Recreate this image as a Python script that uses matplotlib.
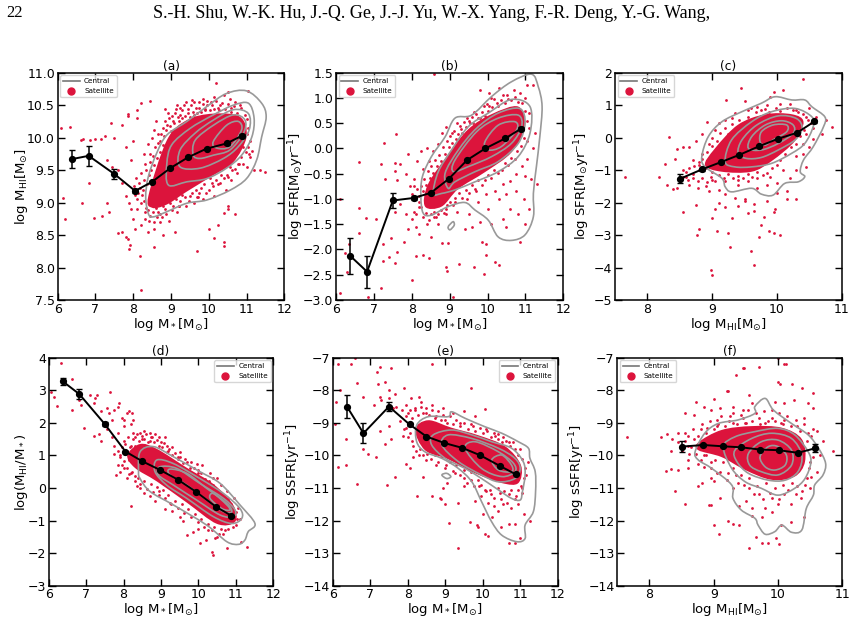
import numpy as np
import matplotlib
matplotlib.use("Agg")
import matplotlib.pyplot as plt
from matplotlib.path import Path
from matplotlib.patches import PathPatch
from matplotlib.lines import Line2D

plt.rcParams["font.family"] = "DejaVu Sans"
plt.rcParams["mathtext.fontset"] = "dejavusans"

RED = "#DC143C"
GREY = "#999999"

# Running medians with their uncertainties
mstar_bins = [6.38, 6.82, 7.50, 8.05, 8.50, 8.98, 9.46, 9.94, 10.47, 10.88]
mhi_bins = [8.50, 8.84, 9.14, 9.42, 9.72, 10.01, 10.31, 10.58]

a_med = [9.67, 9.72, 9.44, 9.18, 9.32, 9.53, 9.70, 9.83, 9.91, 10.03]
a_err = [0.14, 0.15, 0.07, 0.03, 0.02, 0.01, 0.01, 0.01, 0.02, 0.03]
b_med = [-2.13, -2.44, -1.03, -0.98, -0.88, -0.60, -0.23, 0.00, 0.20, 0.39]
b_err = [0.35, 0.32, 0.14, 0.04, 0.02, 0.01, 0.01, 0.01, 0.02, 0.03]
c_med = [-1.27, -0.98, -0.75, -0.53, -0.27, -0.04, 0.15, 0.50]
c_err = [0.14, 0.04, 0.02, 0.01, 0.01, 0.01, 0.02, 0.05]
d_med = [3.27, 2.88, 1.96, 1.12, 0.82, 0.55, 0.25, -0.12, -0.58, -0.85]
d_err = [0.10, 0.16, 0.06, 0.03, 0.02, 0.01, 0.01, 0.01, 0.02, 0.03]
e_med = [-8.50, -9.32, -8.50, -9.05, -9.42, -9.62, -9.77, -10.00, -10.33, -10.58]
e_err = [0.34, 0.30, 0.14, 0.04, 0.02, 0.01, 0.01, 0.01, 0.02, 0.03]
f_med = [-9.73, -9.68, -9.72, -9.75, -9.82, -9.84, -9.92, -9.78]
f_err = [0.17, 0.04, 0.02, 0.01, 0.01, 0.02, 0.03, 0.12]

# Central-galaxy density contours, outermost first
a_contours = [
    [(8.40,8.83),(8.33,9.09),(8.40,9.40),(8.62,9.76),(8.89,10.04),(9.42,10.25),(9.95,10.48),(10.47,10.68),(11.0,10.72),(11.40,10.53),(11.52,10.32),(11.40,10.01),(11.27,9.66),(11.0,9.37),(10.56,9.19),(9.95,9.04),(9.42,8.99),(8.89,8.86),(8.53,8.78)],
    [(8.93,9.27),(8.89,9.60),(9.02,9.89),(9.50,10.14),(10.12,10.35),(10.65,10.50),(11.05,10.53),(11.2,10.30),(11.14,10.01),(10.87,9.73),(10.47,9.53),(9.95,9.37),(9.42,9.32)],
    [(9.24,9.55),(9.24,9.81),(9.64,10.07),(10.12,10.27),(10.65,10.43),(11.05,10.37),(11.07,10.12),(10.78,9.86),(10.39,9.68),(9.77,9.53)],
    [(9.59,9.73),(9.64,9.96),(10.12,10.19),(10.65,10.35),(10.96,10.27),(10.92,10.07),(10.56,9.81),(10.12,9.73),(9.77,9.68)],
    [(10.12,9.94),(10.47,10.19),(10.78,10.25),(10.87,10.12),(10.56,9.86),(10.21,9.84)],
]
b_contours = [
    [(8.30,-1.28),(8.24,-0.95),(8.28,-0.56),(8.52,-0.16),(8.88,0.23),(9.14,0.60),(9.58,0.66),(10.11,1.03),(10.63,1.32),(11.16,1.47),(11.34,1.22),(11.44,0.83),(11.38,0.23),(11.29,-0.36),(11.21,-0.89),(11.21,-1.35),(10.99,-1.71),(10.63,-1.82),(10.28,-1.75),(10.02,-1.42),(9.67,-1.22),(9.40,-1.07),(8.96,-1.15),(8.52,-1.32)],
    [(8.96,-1.55),(9.09,-1.45),(9.12,-1.52),(9.01,-1.61)],
    [(8.57,-0.89),(8.70,-0.46),(9.05,-0.03),(9.49,0.43),(10.02,0.70),(10.63,0.97),(11.12,0.83),(11.12,0.30),(10.81,-0.16),(10.28,-0.46),(9.67,-0.66),(9.14,-0.82),(8.79,-0.89)],
    [(8.96,-0.79),(8.88,-0.49),(9.23,-0.03),(9.71,0.40),(10.28,0.70),(10.85,0.79),(10.99,0.50),(10.81,0.10),(10.28,-0.26),(9.67,-0.46),(9.14,-0.66)],
    [(9.10,-0.46),(9.14,-0.23),(9.71,0.33),(10.28,0.60),(10.81,0.66),(10.9,0.43),(10.63,0.10),(10.11,-0.16),(9.49,-0.36)],
    [(9.93,0.13),(10.28,0.46),(10.72,0.53),(10.77,0.37),(10.37,0.04),(10.02,-0.03)],
]
c_contours = [
    [(8.84,-0.59),(8.94,0.03),(9.15,0.49),(9.46,0.80),(9.76,1.06),(9.97,1.26),(10.23,1.16),(10.43,1.16),(10.54,0.95),(10.74,0.64),(10.72,0.34),(10.56,-0.28),(10.41,-0.69),(10.36,-1.05),(10.43,-1.20),(10.33,-1.36),(10.12,-1.41),(9.94,-1.77),(9.76,-1.74),(9.61,-1.56),(9.30,-1.67),(9.20,-1.51),(9.15,-1.25),(8.89,-0.90)],
    [(9.20,-0.74),(9.30,-0.07),(9.61,0.49),(9.92,0.80),(10.28,0.90),(10.54,0.64),(10.56,0.34),(10.43,-0.18),(10.23,-0.48),(9.92,-0.79),(9.61,-0.90),(9.35,-0.90)],
    [(9.40,-0.48),(9.46,-0.07),(9.69,0.39),(10.02,0.67),(10.30,0.59),(10.39,0.29),(10.28,-0.07),(10.02,-0.38),(9.76,-0.61),(9.53,-0.64)],
    [(9.56,-0.33),(9.61,0.03),(9.82,0.39),(10.07,0.52),(10.25,0.39),(10.25,0.13),(10.02,-0.18),(9.76,-0.38)],
    [(9.74,-0.13),(9.76,0.18),(9.94,0.39),(10.15,0.39),(10.15,0.18),(9.94,-0.07),(9.82,-0.23)],
]
d_contours = [
    [(8.40,0.50),(8.44,1.11),(8.80,1.27),(9.33,0.96),(10.04,0.50),(10.58,0.14),(11.11,-0.52),(11.51,-1.09),(11.33,-1.34),(11.24,-1.60),(11.07,-1.73),(10.76,-1.65),(10.22,-1.14),(9.33,-0.52),(8.71,-0.11),(8.44,0.29)],
    [(8.84,0.50),(8.89,0.86),(9.33,0.75),(10.04,0.29),(10.67,-0.17),(11.11,-0.63),(11.16,-0.93),(10.89,-1.09),(10.40,-0.88),(9.69,-0.32),(9.15,0.09)],
    [(8.93,0.40),(8.97,0.65),(9.42,0.60),(10.04,0.14),(10.67,-0.32),(10.98,-0.68),(10.93,-0.88),(10.58,-0.83),(9.95,-0.37),(9.33,0.09)],
    [(9.24,0.40),(9.24,0.58),(9.69,0.45),(10.22,-0.01),(10.76,-0.47),(10.89,-0.73),(10.67,-0.73),(10.22,-0.37),(9.69,0.09)],
    [(10.31,-0.32),(10.40,-0.17),(10.76,-0.52),(10.84,-0.68),(10.62,-0.63)],
]
e_contours = [
    [(8.24,-9.58),(8.24,-9.07),(8.55,-8.81),(9.08,-8.81),(9.17,-8.66),(9.53,-8.86),(10.06,-9.12),(10.51,-9.32),(10.95,-9.58),(11.22,-9.78),(11.26,-10.09),(11.40,-10.50),(11.41,-11.11),(11.35,-11.73),(11.13,-12.14),(11.13,-12.55),(10.91,-12.65),(10.51,-12.45),(10.24,-12.04),(9.97,-11.42),(9.71,-10.81),(9.35,-10.40),(8.91,-10.09),(8.46,-9.89)],
    [(8.64,-9.68),(8.68,-9.37),(9.17,-9.22),(9.71,-9.37),(10.24,-9.58),(10.77,-9.78),(11.08,-10.19),(11.13,-10.60),(11.06,-11.11),(11.0,-11.37),(10.77,-11.32),(10.42,-11.06),(9.97,-10.71),(9.53,-10.40),(9.0,-10.09)],
    [(8.91,-9.68),(9.08,-9.37),(9.71,-9.48),(10.42,-9.78),(10.86,-10.09),(11.0,-10.40),(10.86,-10.71),(10.42,-10.81),(9.97,-10.60),(9.35,-10.19)],
    [(9.53,-9.78),(9.80,-9.58),(10.42,-9.89),(10.82,-10.24),(10.86,-10.50),(10.51,-10.65),(9.97,-10.40)],
    [(10.24,-10.14),(10.51,-9.99),(10.77,-10.30),(10.77,-10.50),(10.42,-10.45)],
    [(8.91,-10.60),(9.04,-10.55),(9.15,-10.65),(9.04,-10.71)],
]
f_contours = [
    [(8.71,-9.89),(8.86,-9.32),(9.07,-9.02),(9.38,-8.91),(9.64,-8.71),(9.64,-8.50),(9.80,-8.25),(9.93,-8.61),(10.21,-9.02),(10.47,-9.37),(10.63,-9.78),(10.74,-10.24),(10.70,-10.60),(10.57,-10.91),(10.55,-11.22),(10.44,-11.63),(10.37,-12.29),(10.21,-12.36),(10.06,-12.14),(9.95,-12.34),(9.80,-12.42),(9.69,-12.14),(9.64,-11.93),(9.43,-11.68),(9.30,-11.32),(9.28,-10.91),(8.97,-10.40),(8.76,-10.14)],
    [(9.15,-9.73),(9.33,-9.43),(9.64,-9.27),(10.0,-9.17),(10.26,-9.37),(10.47,-9.89),(10.51,-10.24),(10.42,-10.71),(10.26,-11.01),(10.0,-11.22),(9.74,-11.01),(9.49,-10.81),(9.28,-10.40)],
    [(9.33,-9.84),(9.59,-9.48),(9.90,-9.32),(10.21,-9.48),(10.37,-9.99),(10.31,-10.50),(10.11,-10.76),(9.85,-10.76),(9.54,-10.55),(9.36,-10.19)],
    [(9.54,-9.94),(9.74,-9.58),(10.0,-9.53),(10.21,-9.84),(10.21,-10.30),(10.0,-10.60),(9.74,-10.50),(9.56,-10.30)],
    [(9.72,-10.04),(9.85,-9.73),(10.0,-9.73),(10.13,-9.99),(10.11,-10.30),(9.95,-10.45),(9.80,-10.35)],
]

# Outline of the region where satellites overlap completely
a_core = [(8.4,9.1),(8.89,9.96),(9.42,10.27),(10.12,10.37),(10.83,10.32),(11.0,10.01),(10.65,9.62),(10.12,9.42),(9.42,9.17),(8.89,8.97),(8.5,8.92)]
b_core = [(8.35,-1.15),(8.42,-0.72),(8.96,-0.12),(9.49,0.38),(10.11,0.68),(10.81,0.83),(10.99,0.43),(10.63,-0.08),(9.93,-0.47),(9.23,-0.8),(8.79,-1.15)]
c_core = [(8.89,-0.85),(9.04,-0.34),(9.40,0.4),(9.82,0.72),(10.23,0.72),(10.41,0.49),(10.28,-0.1),(9.92,-0.72),(9.61,-1.05),(9.15,-1.05)]
d_core = [(8.44,1.35),(8.89,1.2),(9.69,0.62),(10.40,0.12),(10.93,-0.52),(10.98,-1.04),(10.49,-1.1),(9.69,-0.45),(8.89,0.2),(8.3,0.62),(8.1,1.01)]
e_core = [(8.2,-9.2),(8.55,-8.92),(9.17,-9.15),(9.88,-9.38),(10.6,-9.72),(11.02,-10.3),(10.95,-10.85),(10.51,-10.85),(9.8,-10.55),(9.08,-10.12),(8.46,-9.84)]
f_core = [(8.76,-9.6),(9.12,-9.22),(9.59,-9.1),(10.06,-9.15),(10.37,-9.5),(10.42,-10.19),(10.26,-10.65),(9.9,-10.75),(9.49,-10.45),(9.12,-10.05),(8.76,-9.84)]

# Individual satellites away from the crowded region
a_sat = [(6.1,10.15),(6.32,10.16),(6.15,9.07),(6.2,8.75),(6.65,9.0),(6.62,9.97),(6.66,9.98),(6.85,9.97),(7.0,9.98),(6.82,9.3),(6.95,8.76),(7.18,8.8),(7.35,8.85),(7.3,9.0),(7.3,9.66),(7.25,10.02),(7.15,9.98),(7.4,10.23),(7.45,9.55),(7.5,10.0),(7.6,8.53),(7.7,8.55),(7.8,8.47),(7.85,8.44),(7.88,8.28),(7.92,8.35),(8.18,8.18),(8.2,7.65),(7.7,10.2),(7.8,9.85),(7.85,10.37),(7.86,10.33),(8.1,10.42),(8.2,10.53),(8.45,10.57),(8.1,10.3),(8.0,9.95),(7.95,9.65),(7.6,9.5),(7.7,9.3),(7.8,9.1),(7.9,9.0),(7.95,8.9),(8.0,8.75),(8.05,8.6),(8.1,8.9),(8.2,8.65),(8.3,8.75),(8.4,8.55),(8.55,8.6),(8.55,8.32),(8.7,8.7),(8.8,8.5),(9.1,8.55),(9.7,8.26),(10.0,8.6),(10.15,8.45),(10.4,8.4),(10.4,8.33),(10.25,8.66),(10.4,8.84),(10.5,8.95),(10.5,8.9),(10.7,8.82),(10.2,10.84),(10.5,10.7),(11.05,10.72),(11.1,9.7),(11.2,9.5),(11.5,9.47),(11.35,9.5),
    (8.3,9.6),(8.45,9.75),(8.5,10.0),(8.6,10.25),(8.7,9.95),(8.8,10.15),(8.85,10.44),(8.95,10.3),(9.0,10.1),(9.1,10.38),(9.15,10.5),(9.2,10.25),(9.3,10.42),(9.4,10.55),(9.45,10.38),(9.55,10.58),(9.65,10.45),(9.75,10.55),(9.85,10.6),(9.95,10.5),(10.05,10.55),(10.15,10.62),(10.3,10.5),(10.4,10.65),(10.55,10.6),(10.7,10.55),(10.85,10.45),(10.95,10.35),(11.05,10.15),(11.1,9.95),(11.15,9.8),
    (8.25,9.2),(8.2,9.0),(8.3,8.85),(8.45,8.8),(8.55,8.7),(8.65,8.85),(8.75,8.78),(8.85,8.9),(8.95,8.72),(9.05,8.95),(9.15,8.85),(9.25,9.02),(9.4,8.95),(9.5,9.1),(9.6,9.0),(9.75,9.15),(9.85,9.05),(10.0,9.2),(10.15,9.1),(10.3,9.3),(10.45,9.2),(10.6,9.35),(10.75,9.45),(10.9,9.6),(11.0,9.55),
    (8.15,9.3),(8.2,9.45),(8.28,9.75),(8.38,9.9),(8.55,10.12),(8.65,10.05),(8.9,10.2),(9.05,10.25),(9.25,10.35),(9.6,10.35),(9.9,10.42),(10.25,10.45),(10.6,10.45),(8.1,9.05),(8.35,8.92),(8.6,8.92),(9.2,8.95),(9.7,9.08),(10.1,9.25),(10.5,9.4),(10.8,9.6),(11.05,9.85)]
a_halo = [(8.28,9.35),(8.33,9.5),(8.36,9.28),(8.42,9.42),(8.44,9.62),(8.48,9.5),(8.52,9.72),(8.55,9.58),(8.58,9.85),(8.62,9.68),(8.66,9.92),(8.7,9.78),(8.74,10.05),(8.78,9.88),(8.82,10.02),(8.85,10.25),(8.88,10.12),(8.92,10.38),(8.98,10.18),(9.02,10.33),(9.08,10.22),(9.12,10.44),(9.18,10.32),(9.24,10.46),(9.28,10.3),(9.34,10.5),(9.38,10.34),(9.44,10.44),(9.5,10.32),(9.52,10.5),(9.58,10.4),(9.62,10.55),(9.68,10.38),(9.74,10.46),(9.8,10.4),(9.84,10.52),(9.9,10.44),(9.96,10.56),(10.02,10.42),(10.08,10.5),(10.14,10.44),(10.2,10.56),(10.26,10.42),(10.34,10.54),(10.42,10.44),(10.5,10.52),(10.58,10.4),(10.66,10.48),(10.76,10.38),(10.82,10.5),(10.92,10.2),(11.0,10.28),(11.02,10.05),(11.07,9.75),(10.98,9.78),(10.9,9.85),(10.85,9.7),(10.78,9.6),(10.7,9.52),(10.62,9.5),(10.55,9.55),(10.48,9.42),(10.4,9.38),(10.32,9.42),(10.24,9.28),(10.18,9.35),(10.08,9.3),(10.02,9.38),(9.92,9.15),(9.88,9.28),(9.8,9.22),(9.72,9.08),(9.66,9.2),(9.56,9.14),(9.48,9.02),(9.38,9.08),(9.3,9.12),(9.22,8.95),(9.12,9.05),(9.02,8.88),(8.98,9.0),(8.88,8.82),(8.8,8.95),(8.72,8.82),(8.62,8.78),(8.52,8.85),(8.42,8.72),(8.38,8.88),(8.28,9.02),(8.22,9.12),(8.18,9.22),(8.12,9.15),(8.08,9.38),(8.05,9.12),(8.02,9.25)]
b_sat = [(6.1,-2.87),(6.3,-2.45),(6.25,-2.07),(6.35,-1.9),(6.1,-1.0),(6.62,-0.26),(6.6,-1.18),(6.62,-1.67),(6.8,-1.37),(6.85,-2.95),(7.2,-2.77),(7.05,-1.4),(7.2,-0.3),(7.27,0.1),(7.3,-0.6),(7.25,-1.9),(7.25,-2.22),(7.4,-2.15),(7.45,-1.77),(7.55,-0.28),(7.58,0.28),(7.55,-0.44),(7.6,-0.62),(7.7,-0.3),(7.85,-0.5),(7.9,-0.1),(7.55,-2.27),(7.6,-2.05),(7.8,-1.85),(7.9,-1.6),(8.1,-2.12),(8.3,-2.1),(8.45,-2.17),(8.0,-2.6),(8.0,-1.4),(7.55,-1.25),(7.7,-1.1),(7.85,-1.3),(7.95,-0.75),(8.05,-0.6),(8.15,-0.25),(8.25,-0.05),(8.4,0.0),(8.1,-1.55),(8.2,-1.7),(8.9,-2.35),(8.92,-2.42),(9.1,-2.95),(9.25,-2.28),(8.8,-1.88),(8.95,-1.88),(9.65,-2.35),(9.9,-2.48),(9.95,-2.1),(10.2,-2.25),(10.3,-2.3),(9.85,-1.85),(9.95,-1.9),(8.5,-1.75),(8.4,-1.5),(8.65,-1.35),(9.4,-1.6),(9.6,-1.55),(9.8,-1.45),(10.1,-1.5),(10.4,-1.4),(10.5,-1.55),(10.85,-1.85),(11.0,-1.5),(11.1,-1.2),(10.95,-1.0),(11.3,-0.7),(10.8,-1.3),(10.6,-1.2),(10.3,-1.0),(10.0,-1.2),(9.75,-1.05),(9.5,-1.3),(9.2,-1.25),(8.9,-1.3),(8.7,-1.5),(8.6,-1.25),(8.2,-1.15),(8.05,-1.25),(8.0,-0.9),(8.15,-0.8),
    (8.3,-0.4),(8.45,-0.25),(8.55,-0.05),(8.7,0.08),(8.8,0.3),(8.9,0.42),(9.05,0.3),(9.2,0.5),(9.3,0.38),(9.45,0.6),(9.55,0.5),(9.65,0.72),(9.8,0.6),(9.9,0.85),(10.0,0.75),(10.1,1.0),(10.25,0.9),(10.4,1.05),(10.55,0.98),(10.7,1.15),(10.85,1.1),(11.0,1.0),(11.05,1.25),(11.2,1.25),(10.3,1.2),(10.05,1.1),(9.8,1.15),(11.1,0.7),(11.25,0.3),(11.2,0.0),(11.05,-0.2),(10.9,-0.35),(10.75,-0.5),(10.6,-0.65),(10.4,-0.7),(10.2,-0.85),(9.95,-0.9),(9.7,-0.85),(9.45,-1.0),(9.15,-1.05),(8.9,-1.2),(10.75,-0.85),(11.0,-0.55),(11.15,-0.6),(10.5,-0.9),(8.6,1.47)]
b_halo = [(8.2,-0.95),(8.25,-0.75),(8.3,-0.85),(8.33,-0.6),(8.38,-0.72),(8.42,-0.45),(8.47,-0.58),(8.52,-0.35),(8.57,-0.48),(8.62,-0.22),(8.67,-0.35),(8.72,-0.12),(8.77,-0.25),(8.82,0.02),(8.87,-0.1),(8.92,0.15),(8.97,0.02),(9.02,0.25),(9.07,0.1),(9.12,0.35),(9.17,0.18),(9.22,0.28),(9.27,0.45),(9.32,0.3),(9.38,0.52),(9.43,0.42),(9.5,0.55),(9.58,0.62),(9.62,0.5),(9.7,0.68),(9.76,0.6),(9.85,0.72),(9.92,0.65),(9.98,0.88),(10.05,0.85),(10.12,0.82),(10.18,0.98),(10.28,0.85),(10.35,0.95),(10.45,0.9),(10.52,1.05),(10.62,0.95),(10.72,1.02),(10.8,0.92),(10.92,0.9),(11.0,0.75),(11.05,0.55),(11.1,0.4),(11.05,0.15),(10.95,0.2),(10.88,0.05),(10.78,-0.05),(10.72,-0.2),(10.62,-0.18),(10.55,-0.32),(10.45,-0.28),(10.38,-0.42),(10.28,-0.48),(10.18,-0.42),(10.1,-0.58),(10.02,-0.52),(9.92,-0.62),(9.85,-0.72),(9.75,-0.62),(9.68,-0.8),(9.58,-0.72),(9.5,-0.88),(9.42,-0.82),(9.32,-0.98),(9.25,-0.88),(9.15,-0.98),(9.08,-1.12),(9.0,-1.05),(8.92,-1.12),(8.85,-1.28),(8.78,-1.22),(8.7,-1.3),(8.6,-1.35),(8.5,-1.3),(8.45,-1.42),(8.38,-1.28),(8.3,-1.35),(8.25,-1.15),(8.18,-1.05),(8.12,-1.3),(8.05,-0.75)]
c_sat = [(7.65,-1.2),(8.18,-1.22),(8.27,-0.8),(8.3,-1.45),(8.33,0.02),(8.4,-1.58),(8.45,-1.55),(8.42,-0.67),(8.55,-0.3),(8.45,-0.35),(8.55,-2.28),(8.75,-2.07),(8.76,-3.0),(8.8,-2.8),(8.98,-4.07),(9.0,-4.22),(9.0,-2.48),(9.08,-2.88),(9.25,-2.95),(9.27,-3.38),(9.2,-2.15),(9.3,-2.48),(9.4,-2.1),(9.55,-2.33),(9.65,-2.25),(9.6,-3.5),(9.65,-3.92),(9.72,-3.05),(9.75,-2.7),(9.8,-2.45),(9.87,-2.88),(9.95,-2.95),(10.04,-3.0),(9.95,-2.3),(9.97,-2.2),(9.05,-2.2),(9.1,-2.0),(9.5,-1.95),(9.65,-2.05),(9.85,-1.95),(10.15,-1.9),(10.3,-1.9),(10.15,-1.65),(10.0,-1.7),(9.5,-1.9),(9.35,-1.85),(9.45,1.52),(9.22,1.17),(9.5,1.13),(8.92,0.48),(8.85,0.1),(8.75,-0.1),(8.65,-0.3),(8.7,-0.7),(8.55,-1.0),(8.65,-1.45),(8.78,-1.55),(8.9,-1.5),(9.0,-1.3),(9.1,-1.6),(9.2,-1.75),(9.4,-1.45),(9.55,-1.35),(9.7,-1.55),(9.85,-1.45),(10.0,-1.4),(10.2,-1.25),(10.3,-1.0),(10.45,-0.9),(10.4,-0.5),(10.5,-0.3),(10.55,-0.05),(10.7,0.1),(10.85,0.33),(10.75,0.55),(10.6,0.65),(10.5,0.9),(10.4,1.8),(10.1,1.48),(9.95,1.42),(9.9,1.25),(10.2,1.05),(9.85,1.0),(9.7,0.95),(9.55,0.85),(9.35,0.75),(9.2,0.55),(9.05,0.25),(9.1,0.45),(9.3,0.6),(9.6,0.9),(9.75,0.85),(10.05,1.05),(10.3,0.85),(10.45,0.65),(10.55,0.3),(10.45,0.1),(10.4,-0.2),(10.3,-0.55),(10.1,-1.0),(9.9,-1.2),(9.7,-1.25),(9.4,-1.3),(9.2,-1.35),(9.0,-1.05),(8.8,-1.0),(8.7,-1.25),(8.85,-0.5),(8.8,-0.75),(8.95,-0.2),(9.0,0.0),(8.65,-0.95),(8.6,-1.2),(8.95,-1.65)]
c_halo = [(8.8,-0.85),(8.85,-0.65),(8.9,-0.95),(8.92,-0.45),(8.97,-0.7),(9.0,-0.25),(9.03,-0.55),(9.07,-0.1),(9.1,-0.35),(9.12,0.15),(9.16,-0.15),(9.2,0.3),(9.25,0.1),(9.3,0.42),(9.35,0.25),(9.42,0.55),(9.48,0.38),(9.55,0.65),(9.6,0.55),(9.68,0.78),(9.75,0.68),(9.82,0.88),(9.88,0.78),(9.98,0.9),(10.05,0.82),(10.15,0.92),(10.25,0.85),(10.32,0.78),(10.4,0.72),(10.48,0.55),(10.52,0.45),(10.42,0.25),(10.35,0.05),(10.3,-0.2),(10.22,-0.3),(10.12,-0.5),(10.05,-0.7),(10.0,-0.85),(9.92,-0.95),(9.85,-1.1),(9.78,-1.15),(9.7,-1.05),(9.62,-1.2),(9.55,-1.12),(9.48,-1.25),(9.4,-1.18),(9.32,-1.25),(9.25,-1.12),(9.18,-1.25),(9.1,-1.15),(9.05,-1.32),(8.98,-1.2),(8.92,-1.38),(8.85,-1.25),(8.78,-1.32),(8.7,-1.12),(8.62,-1.3),(8.72,-0.88),(8.6,-1.05),(8.55,-1.2)]
d_sat = [(6.33,3.85),(6.05,2.95),(6.15,2.8),(6.22,2.53),(6.62,3.35),(6.62,2.38),(6.85,2.55),(6.82,2.7),(6.95,1.85),(7.1,2.87),(7.25,2.75),(7.3,2.85),(7.2,2.6),(7.4,2.35),(7.55,2.45),(7.65,2.95),(7.6,2.3),(7.7,2.1),(7.75,2.4),(7.85,2.5),(7.88,2.6),(7.95,2.15),(8.0,1.9),(8.1,2.3),(8.15,2.35),(8.22,2.3),(8.0,2.1),(8.2,1.95),(8.25,2.1),(7.2,1.6),(7.35,1.65),(7.4,1.45),(7.55,1.8),(7.7,1.55),(7.75,1.3),(7.85,1.7),(7.9,1.0),(7.85,0.7),(7.8,0.4),(7.9,0.5),(8.0,0.6),(8.2,-0.55),(8.1,0.3),(8.2,0.45),(8.3,0.2),(8.25,1.7),(8.3,1.55),(8.45,1.7),(8.55,1.75),(8.7,1.7),(8.85,1.65),(8.7,1.45),(9.0,1.4),(9.1,1.55),(9.15,1.3),(9.3,1.25),(9.5,1.1),(9.65,0.9),(9.8,0.8),(9.95,0.75),(10.1,0.7),(10.3,0.45),(10.5,0.3),(10.6,0.1),(10.75,-0.1),(10.95,-0.3),(11.05,-0.6),(11.1,-0.95),(11.0,-1.15),(10.8,-1.25),(10.85,-1.05),(10.65,-1.4),(10.5,-1.5),(10.45,-1.55),(10.05,-1.7),(10.2,-1.6),(10.35,-1.95),(10.38,-2.05),(10.75,-1.85),(11.15,-1.65),(11.3,-1.8),(9.7,-1.45),(9.85,-1.35),(10.0,-1.25),(9.5,-0.9),(9.3,-0.7),(9.1,-0.65),(8.85,-0.4),(8.7,-0.25),(8.55,-0.15),(8.45,0.0),(8.35,0.05),(9.25,-0.45),(8.95,-0.2),(9.6,-1.0),(10.25,-1.3),(8.5,1.5),(8.75,1.55),(8.95,1.55),(9.2,1.15),(9.45,0.95),(10.0,0.55),(10.4,0.3),(8.2,1.3),(8.1,1.15),(8.15,0.85)]
d_halo = [(8.05,1.35),(8.12,1.55),(8.18,1.25),(8.25,1.5),(8.3,1.3),(8.35,1.65),(8.42,1.45),(8.48,1.6),(8.55,1.5),(8.6,1.65),(8.65,1.4),(8.72,1.55),(8.8,1.42),(8.88,1.48),(8.95,1.3),(9.02,1.25),(9.08,1.38),(9.15,1.12),(9.22,1.2),(9.3,1.02),(9.38,1.08),(9.45,0.88),(9.52,0.95),(9.6,0.78),(9.7,0.8),(9.78,0.62),(9.88,0.62),(9.98,0.45),(10.08,0.45),(10.18,0.28),(10.28,0.22),(10.38,0.1),(10.48,-0.02),(10.58,-0.15),(10.68,-0.25),(10.78,-0.35),(10.88,-0.5),(11.0,-0.75),(11.02,-0.95),(10.92,-1.2),(10.7,-1.28),(10.6,-1.25),(10.55,-1.42),(10.42,-1.2),(10.35,-1.3),(10.25,-1.1),(10.15,-1.2),(10.08,-0.95),(9.98,-1.05),(9.9,-0.8),(9.8,-0.9),(9.72,-0.65),(9.62,-0.78),(9.55,-0.5),(9.45,-0.62),(9.38,-0.4),(9.28,-0.5),(9.2,-0.2),(9.12,-0.3),(9.05,-0.05),(8.95,-0.1),(8.88,0.02),(8.78,-0.12),(8.72,0.12),(8.62,-0.02),(8.55,0.2),(8.45,0.12),(8.38,0.32),(8.3,0.38),(8.22,0.48),(8.15,0.42),(8.08,0.62),(8.02,0.82),(7.95,0.72),(7.9,0.95),(7.85,1.15),(7.95,1.25),(8.0,1.45),(7.75,1.05)]
e_sat = [(6.13,-7.2),(6.6,-7.0),(6.65,-7.77),(6.8,-8.2),(6.1,-8.35),(6.2,-8.0),(6.05,-9.05),(6.35,-9.5),(6.15,-10.35),(6.35,-10.3),(6.65,-10.87),(6.8,-9.8),(6.95,-9.95),(7.1,-8.45),(7.2,-7.8),(7.17,-7.45),(7.25,-7.28),(7.4,-7.75),(7.55,-7.32),(7.5,-8.0),(7.65,-8.1),(7.9,-7.92),(7.25,-8.2),(7.3,-8.3),(7.5,-8.25),(7.6,-8.55),(7.7,-8.5),(7.85,-8.6),(7.5,-9.1),(7.25,-9.25),(7.15,-10.05),(7.45,-10.9),(7.55,-9.5),(7.4,-9.65),(7.65,-10.65),(7.95,-10.25),(8.05,-10.4),(8.25,-11.25),(8.4,-10.65),(8.65,-11.25),(8.85,-11.3),(8.9,-11.35),(8.95,-11.0),(9.05,-10.85),(9.0,-11.5),(9.1,-12.07),(9.35,-12.85),(9.35,-11.45),(9.5,-10.95),(9.65,-12.05),(9.85,-12.15),(9.87,-12.2),(10.07,-12.4),(10.15,-12.47),(10.0,-11.8),(10.25,-11.9),(10.5,-12.2),(10.4,-11.7),(10.7,-12.1),(10.85,-12.1),(10.7,-12.7),(10.85,-12.7),(11.0,-12.55),(10.55,-11.5),(10.75,-11.6),(10.95,-11.5),(11.1,-11.8),(11.25,-12.0),(10.3,-11.3),(10.1,-11.1),(9.9,-10.95),(9.8,-11.4),(11.05,-11.0),(11.15,-10.6),(11.2,-10.2),(11.0,-9.8),(10.8,-9.6),(10.55,-9.45),(10.3,-9.3),(10.05,-8.58),(9.7,-7.92),(9.8,-8.8),(9.5,-8.65),(9.2,-8.7),(8.95,-8.55),(8.65,-8.45),(8.35,-8.35),(8.3,-8.2),(8.1,-8.25),(7.95,-8.45),(8.0,-8.7),(8.2,-8.6),(8.5,-8.7),(8.75,-8.8),(9.0,-8.9),(9.4,-9.0),(9.75,-9.1),(10.1,-9.2),(10.4,-9.35),(10.7,-9.6),(7.8,-8.95),(7.9,-9.2),(8.0,-9.45),(8.15,-9.7),(8.3,-10.0),(8.5,-10.15),(8.75,-10.3),(9.0,-10.4),(9.25,-10.55),(9.5,-10.7),(9.7,-10.75),(9.95,-10.9),(10.2,-11.05),(10.45,-11.15),(10.7,-11.2),(10.9,-11.25),(6.5,-7.2),(8.65,-7.2),(8.15,-10.05)]
e_halo = [(7.95,-8.8),(8.05,-8.6),(8.12,-8.85),(8.2,-8.55),(8.28,-8.75),(8.35,-8.5),(8.42,-8.7),(8.5,-8.55),(8.58,-8.75),(8.65,-8.6),(8.72,-8.85),(8.8,-8.65),(8.88,-8.9),(8.95,-8.75),(9.05,-9.0),(9.12,-8.8),(9.22,-9.05),(9.3,-8.9),(9.4,-9.1),(9.5,-9.0),(9.6,-9.2),(9.7,-9.05),(9.8,-9.25),(9.92,-9.15),(10.02,-9.32),(10.12,-9.25),(10.22,-9.45),(10.32,-9.4),(10.42,-9.5),(10.52,-9.6),(10.62,-9.55),(10.72,-9.72),(10.85,-9.8),(10.95,-10.0),(11.05,-10.1),(11.12,-10.4),(11.1,-10.7),(11.02,-10.95),(11.05,-11.15),(10.95,-11.05),(10.85,-11.35),(10.75,-11.05),(10.65,-11.45),(10.58,-11.1),(10.48,-11.35),(10.4,-11.0),(10.3,-11.55),(10.22,-11.2),(10.15,-11.45),(10.05,-11.05),(9.95,-11.25),(9.88,-10.75),(9.78,-10.95),(9.68,-10.5),(9.58,-10.85),(9.5,-10.45),(9.4,-10.6),(9.3,-10.3),(9.22,-10.48),(9.12,-10.2),(9.02,-10.3),(8.92,-10.05),(8.82,-10.2),(8.72,-9.98),(8.62,-10.1),(8.52,-9.95),(8.42,-10.0),(8.32,-9.8),(8.22,-9.85),(8.12,-9.55),(8.05,-9.3),(7.95,-9.15),(7.88,-9.4)]
f_sat = [(7.65,-9.45),(8.18,-9.45),(8.27,-9.35),(8.33,-9.85),(8.25,-10.47),(8.33,-10.42),(8.45,-10.45),(8.39,-11.1),(8.55,-11.5),(8.55,-9.3),(8.45,-9.6),(8.6,-10.4),(8.75,-10.95),(8.82,-10.85),(8.93,-11.53),(8.95,-11.53),(9.0,-12.15),(9.08,-12.4),(9.0,-10.8),(9.1,-11.3),(9.22,-12.0),(9.3,-12.1),(9.4,-12.15),(9.55,-12.85),(9.65,-12.5),(9.75,-12.7),(9.85,-12.7),(9.97,-12.55),(10.02,-12.72),(9.45,-7.33),(9.47,-7.33),(9.35,-7.52),(9.7,-7.3),(10.0,-7.0),(10.1,-7.2),(10.13,-7.2),(10.22,-7.8),(10.38,-7.92),(10.55,-8.07),(10.0,-7.75),(10.03,-7.8),(9.2,-8.03),(9.22,-8.03),(9.0,-8.26),(8.72,-8.35),(8.85,-8.5),(8.55,-8.7),(8.7,-8.75),(8.95,-8.6),(9.1,-8.55),(9.3,-8.5),(9.45,-8.6),(9.6,-8.4),(9.55,-8.15),(9.95,-8.35),(10.1,-8.4),(10.25,-8.3),(10.47,-8.4),(10.55,-8.55),(10.4,-8.85),(10.55,-9.2),(10.7,-9.55),(10.85,-9.85),(10.65,-10.0),(10.6,-10.5),(10.5,-11.0),(10.35,-11.3),(10.4,-11.9),(10.2,-12.05),(10.05,-12.15),(9.9,-11.75),(9.75,-11.9),(9.6,-11.85),(9.5,-11.4),(9.4,-11.55),(9.3,-11.0),(9.2,-10.75),(9.05,-10.55),(8.95,-10.7),(8.85,-10.35),(8.75,-10.25),(8.6,-10.15),(8.65,-9.75),(8.7,-9.5),(8.8,-9.2),(8.9,-9.15),(9.05,-8.9),(9.25,-8.8),(9.45,-8.85),(9.7,-8.85),(9.9,-8.85),(10.1,-8.9),(10.3,-9.1),(10.45,-9.55),(10.5,-10.2),(10.45,-10.7),(10.3,-10.95),(10.1,-11.2),(9.9,-11.3),(9.7,-11.2),(9.55,-11.0),(9.35,-10.6),(9.05,-9.1),(9.3,-9.0),(9.5,-9.0),(9.8,-9.0),(10.05,-9.0),(8.85,-10.0),(8.95,-10.2),(10.2,-11.5),(10.0,-11.5),(9.8,-11.6),(9.6,-11.6)]
f_halo = [(8.6,-9.4),(8.68,-9.2),(8.75,-9.4),(8.82,-9.05),(8.88,-9.3),(8.94,-8.95),(9.0,-9.2),(9.06,-9.05),(9.12,-8.8),(9.18,-9.1),(9.24,-8.95),(9.3,-8.7),(9.36,-9.05),(9.42,-8.75),(9.48,-9.0),(9.54,-8.6),(9.6,-8.95),(9.66,-8.7),(9.72,-9.05),(9.78,-8.65),(9.84,-8.95),(9.9,-8.6),(9.96,-8.95),(10.02,-8.7),(10.08,-9.05),(10.14,-8.8),(10.2,-9.1),(10.28,-8.9),(10.34,-9.25),(10.4,-9.05),(10.46,-9.3),(10.52,-9.4),(10.56,-9.7),(10.6,-9.25),(10.55,-10.05),(10.48,-10.4),(10.52,-10.65),(10.42,-10.9),(10.38,-11.1),(10.28,-11.2),(10.22,-10.85),(10.15,-11.05),(10.08,-10.9),(10.02,-11.35),(9.95,-11.0),(9.88,-11.15),(9.82,-10.85),(9.76,-11.35),(9.68,-10.95),(9.62,-11.2),(9.55,-10.7),(9.47,-10.9),(9.42,-10.6),(9.38,-10.85),(9.3,-10.4),(9.22,-10.55),(9.15,-10.2),(9.1,-10.5),(9.02,-10.15),(8.95,-10.4),(8.88,-10.0),(8.8,-10.15),(8.72,-9.95),(8.62,-9.95),(8.55,-9.55),(8.6,-9.7),(8.5,-9.85),(8.45,-9.3),(8.35,-9.5)]

xlab_star = r"$\log\,\mathrm{M_*[M_{{\odot}}]}$"
xlab_hi = r"$\log\,\mathrm{M_{HI}[M_{{\odot}}]}$"

panels = [
    dict(box=(57.7, 72.7, 284.3, 300.0), title="(a)", xlim=(6, 12), ylim=(7.5, 11), xt=[6,7,8,9,10,11,12], yt=[7.5,8.0,8.5,9.0,9.5,10.0,10.5,11.0], yf="{:.1f}", xl=xlab_star, yl=xlab_hi, ypad=-2, x=mstar_bins, y=a_med, e=a_err, c=a_contours, core=a_core, s=a_sat+a_halo, loc="upper left"),
    dict(box=(336.0, 72.7, 563.3, 300.0), title="(b)", xlim=(6, 12), ylim=(-3, 1.5), xt=[6,7,8,9,10,11,12], yt=[-3.0,-2.5,-2.0,-1.5,-1.0,-0.5,0.0,0.5,1.0,1.5], yf="{:.1f}", xl=xlab_star, yl=r"$\log\,\mathrm{SFR[M_{{\odot}}yr^{-1}]}$", ypad=-2, x=mstar_bins, y=b_med, e=b_err, c=b_contours, core=b_core, s=b_sat+b_halo, loc="upper left"),
    dict(box=(615.0, 72.7, 841.7, 300.0), title="(c)", xlim=(7.5, 11), ylim=(-5, 2), xt=[8,9,10,11], yt=[-5,-4,-3,-2,-1,0,1,2], yf="{:d}", xl=xlab_hi, yl=r"$\log\,\mathrm{SFR[M_{{\odot}}yr^{-1}]}$", ypad=1, x=mhi_bins, y=c_med, e=c_err, c=c_contours, core=c_core, s=c_sat+c_halo, loc="upper left"),
    dict(box=(48.7, 357.7, 273.3, 585.7), title="(d)", xlim=(6, 12), ylim=(-3, 4), xt=[6,7,8,9,10,11,12], yt=[-3,-2,-1,0,1,2,3,4], yf="{:d}", xl=xlab_star, yl=r"$\log(\mathrm{M_{HI}/M_*})$", ypad=-2, x=mstar_bins, y=d_med, e=d_err, c=d_contours, core=d_core, s=d_sat+d_halo, loc="upper right"),
    dict(box=(332.7, 357.7, 557.7, 585.7), title="(e)", xlim=(6, 12), ylim=(-14, -7), xt=[6,7,8,9,10,11,12], yt=[-14,-13,-12,-11,-10,-9,-8,-7], yf="{:d}", xl=xlab_star, yl=r"$\log\,\mathrm{SSFR[yr^{-1}]}$", ypad=0.5, x=mstar_bins, y=e_med, e=e_err, c=e_contours, core=e_core, s=e_sat+e_halo, loc="upper right"),
    dict(box=(617.3, 357.7, 842.3, 585.7), title="(f)", xlim=(7.5, 11), ylim=(-14, -7), xt=[8,9,10,11], yt=[-14,-13,-12,-11,-10,-9,-8,-7], yf="{:d}", xl=xlab_hi, yl=r"$\log\,\mathrm{sSFR[yr^{-1}]}$", ypad=0.5, x=mhi_bins, y=f_med, e=f_err, c=f_contours, core=f_core, s=f_sat+f_halo, loc="upper left"),
]


def closed_curve(vertices):
    """Smooth closed Bezier path passing through the given vertices."""
    p = np.asarray(vertices, dtype=float)
    prev, nxt = np.roll(p, 1, axis=0), np.roll(p, -1, axis=0)
    tangent = (nxt - prev) / 6.0
    verts, codes = [p[0]], [Path.MOVETO]
    for i in range(len(p)):
        j = (i + 1) % len(p)
        verts += [p[i] + tangent[i], p[j] - tangent[j], p[j]]
        codes += [Path.CURVE4] * 3
    return Path(verts, codes)


W, H = 855, 620
fig = plt.figure(figsize=(W / 100, H / 100), dpi=100)
fig.text(6 / W, 1 - 13 / H, "22", family="Liberation Serif", fontsize=12, va="center", ha="left")
fig.text(431.5 / W, 1 - 13 / H, "S.-H. Shu, W.-K. Hu, J.-Q. Ge, J.-J. Yu, W.-X. Yang, F.-R. Deng, Y.-G. Wang,",
         family="Liberation Serif", fontsize=13, va="center", ha="center")

for p in panels:
    l, t, r, b = p["box"]
    ax = fig.add_axes([l / W, 1 - b / H, (r - l) / W, (b - t) / H])
    pts = np.array(p["s"])
    ax.add_patch(PathPatch(closed_curve(p["core"]), facecolor=RED, edgecolor="none", zorder=1))
    ax.scatter(pts[:, 0], pts[:, 1], s=4.0, color=RED, linewidths=0, zorder=1.5)
    for contour in p["c"]:
        ax.add_patch(PathPatch(closed_curve(contour), facecolor="none", edgecolor=GREY, lw=1.2, zorder=2))
    ax.errorbar(p["x"], p["y"], yerr=p["e"], color="black", lw=1.4, marker="o", ms=4.2,
                elinewidth=1.1, capsize=2, capthick=1.0, zorder=3)
    ax.set_xlim(*p["xlim"])
    ax.set_ylim(*p["ylim"])
    ax.set_xticks(p["xt"])
    ax.set_yticks(p["yt"])
    ax.set_yticklabels([p["yf"].format(v).replace("-", "\u2212") for v in p["yt"]])
    ax.tick_params(direction="in", length=5, width=1.0, top=True, right=True, labelsize=9, pad=2)
    for spine in ax.spines.values():
        spine.set_linewidth(1.1)
    ax.set_title(p["title"], fontsize=8.8, pad=2)
    ax.set_xlabel(p["xl"], fontsize=9.5, labelpad=0)
    ax.set_ylabel(p["yl"], fontsize=9.5, labelpad=p["ypad"])
    handles = [Line2D([], [], color="#777777", lw=1.2),
               Line2D([], [], color=RED, marker="o", ms=5, lw=0)]
    ax.legend(handles, ["Central", "Satellite"], loc=p["loc"], fontsize=5.2, borderaxespad=0.35,
              handlelength=2.3, labelspacing=0.55, borderpad=0.4, handletextpad=0.6, framealpha=0.8)

fig.savefig("out.png", dpi=100)
